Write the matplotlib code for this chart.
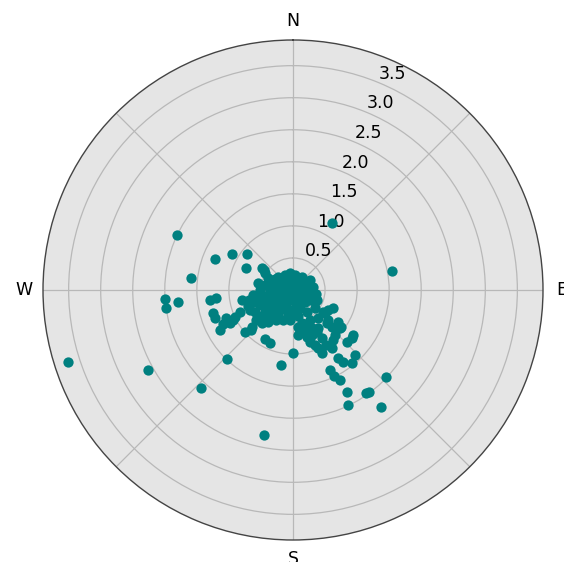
import numpy as np
import matplotlib.pyplot as plt

# direction (degrees, clockwise from north) and magnitude
direction = [
    252.3, 295.4, 241.1, 223.2, 191.4, 223.7, 189.1, 180.0, 30.2, 79.1,
    133.1, 144.7, 143.3, 143.1, 152.1, 154.4, 276.7, 291.7, 300.5, 308.0,
    295.1, 305.4, 266.0, 261.9, 264.0, 263.1, 264.1, 254.0, 250.3, 241.3,
    247.3, 243.4, 244.1, 242.4, 245.0, 258.9, 257.2, 228.8, 226.4, 209.7,
    203.5, 155.2, 154.5, 152.4, 146.5, 145.2, 141.1, 136.4, 133.9, 129.1,
    126.9, 146.1, 156.7, 155.3, 161.9, 158.2, 172.3, 164.7, 164.1, 138.2,
    126.3, 119.7, 114.2, 134.2, 133.5, 125.4, 129.0, 137.0, 141.3, 157.1,
    146.7, 192.8, 173.7, 135.0, 112.8, 112.6, 301.3, 295.6, 310.9, 331.9,
    350.0, 7.6, 34.7, 59.5, 252.5, 227.9, 223.2, 218.0, 211.0, 190.5,
    118.6, 129.3, 161.1, 153.4, 173.7, 163.4, 150.3, 125.7, 130.6, 127.6,
    270.0, 280.1, 270.0, 285.5, 301.6, 302.0, 336.8, 21.8, 74.1, 90.0,
    100.0, 257.1, 254.1, 251.6, 251.6, 249.4, 206.6, 135.0, 120.3, 245.6,
    236.8, 231.7, 225.0, 206.6, 180.0, 151.7, 231.8, 222.4, 213.0, 197.5,
    180.0, 245.1, 239.9, 219.4, 198.4, 66.4, 304.6, 290.0, 270.0, 325.0,
    35.0, 158.0, 260.8, 244.4, 239.5, 231.3, 206.6, 158.2, 116.6, 120.5,
    263.7, 280.3, 270.0, 116.6, 283.5, 301.4, 354.8, 51.3, 81.5, 99.9,
    230.0, 209.5, 185.7, 169.1, 147.5, 158.7, 281.3, 262.9, 250.4, 247.5,
    230.9, 170.1, 150.5, 148.9, 149.0,
]
speed = [
    3.69, 2.01, 2.59, 2.10, 2.30, 1.49, 1.19, 0.98, 1.21, 1.58,
    1.99, 1.97, 1.99, 2.29, 1.80, 1.99, 1.60, 1.31, 1.11, 0.91,
    0.81, 0.59, 2.00, 2.00, 1.81, 1.31, 1.21, 1.30, 1.30, 1.30,
    1.13, 1.05, 1.22, 1.11, 1.00, 0.81, 0.70, 1.00, 0.91, 0.88,
    0.90, 1.38, 1.49, 1.59, 1.27, 1.37, 1.47, 1.40, 1.17, 1.19,
    1.17, 1.09, 0.99, 1.08, 0.85, 0.93, 0.58, 0.53, 0.68, 0.59,
    0.58, 0.63, 0.69, 0.74, 0.84, 0.86, 0.94, 0.96, 1.00, 0.76,
    0.71, 0.35, 0.28, 0.27, 0.32, 0.41, 0.51, 0.43, 0.31, 0.27,
    0.27, 0.24, 0.25, 0.31, 0.62, 0.86, 0.71, 0.63, 0.46, 0.43,
    0.39, 0.44, 0.58, 0.66, 0.71, 0.77, 0.76, 0.62, 0.72, 0.95,
    0.52, 0.44, 0.36, 0.29, 0.24, 0.15, 0.12, 0.08, 0.11, 0.19,
    0.27, 0.56, 0.45, 0.35, 0.25, 0.13, 0.03, 0.11, 0.22, 0.57,
    0.49, 0.38, 0.29, 0.21, 0.16, 0.23, 0.56, 0.49, 0.37, 0.31,
    0.34, 0.74, 0.69, 0.57, 0.49, 0.27, 0.55, 0.37, 0.20, 0.19,
    0.19, 0.08, 0.49, 0.43, 0.31, 0.20, 0.10, 0.17, 0.17, 0.31,
    0.28, 0.17, 0.08, 0.03, 0.40, 0.33, 0.17, 0.20, 0.32, 0.36,
    0.63, 0.54, 0.47, 0.41, 0.41, 0.30, 0.56, 0.63, 0.75, 0.90,
    0.74, 0.63, 0.54, 0.88, 1.00,
]

r_ticks = [0.5, 1.0, 1.5, 2.0, 2.5, 3.0, 3.5]
compass = ["N", "", "E", "", "S", "", "W", ""]

fig = plt.figure(figsize=(5.64, 5.62), dpi=100)
ax = fig.add_axes([43 / 564, 22 / 562, 500 / 564, 500 / 562], projection="polar")
ax.set_theta_zero_location("N")
ax.set_theta_direction(-1)
ax.set_facecolor("#e5e5e5")

ax.scatter(np.radians(direction), speed, s=55, color="#008080", linewidths=0, zorder=3)

ax.set_ylim(0, 3.9)
ax.set_yticks(r_ticks)
ax.set_yticklabels([str(v) for v in r_ticks], fontsize=12.5)
ax.set_thetagrids(np.arange(0, 360, 45), compass, fontsize=12.5)
ax.tick_params(axis="x", pad=3)
ax.grid(True, color="#b8b8b8", linewidth=0.9)
ax.spines["polar"].set_color("#444444")
ax.spines["polar"].set_linewidth(1.0)

fig.savefig("out.png", dpi=100)
